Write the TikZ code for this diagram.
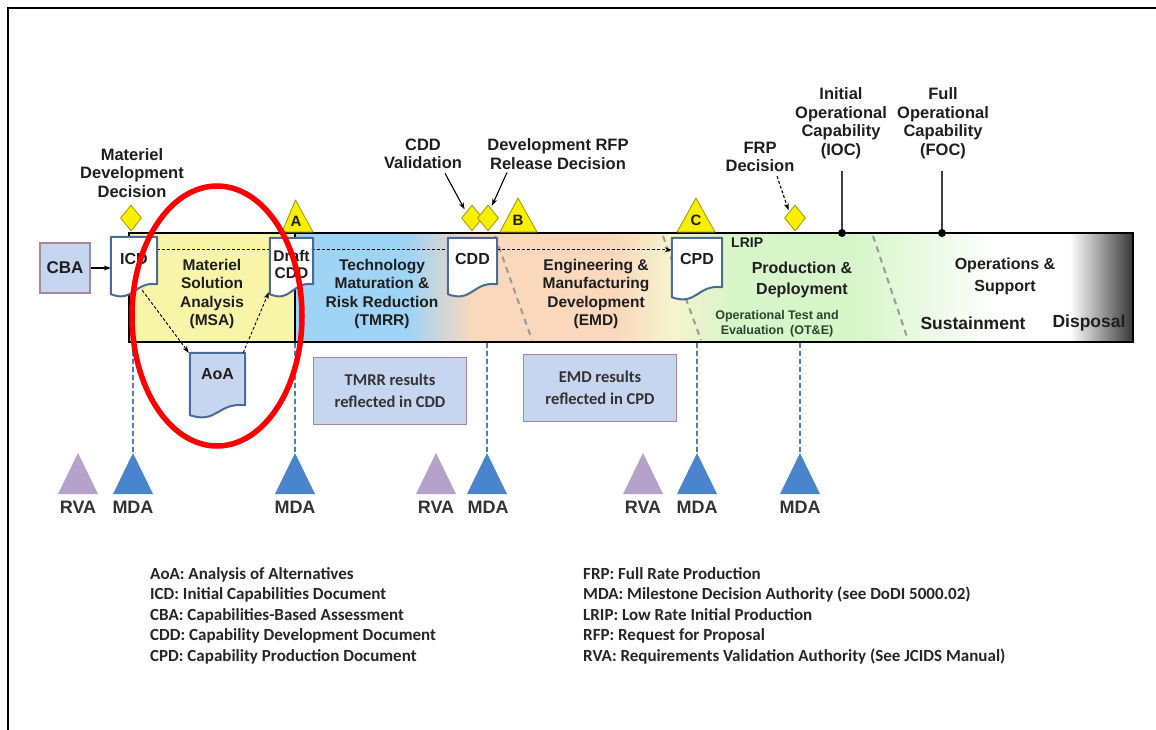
\documentclass[tikz,border=0pt]{standalone}
\usepackage{fontspec}
\setmainfont{Liberation Sans}
\newfontfamily\legendfont{Carlito}
\usetikzlibrary{arrows.meta,calc,shapes.geometric}
\pgfdeclarelayer{bandlayer}
\pgfdeclarelayer{doclayer}
\pgfsetlayers{bandlayer,doclayer,main}
\definecolor{msayellow}{RGB}{249,245,168}
\definecolor{tmrrblue}{RGB}{160,212,245}
\definecolor{emdpeach}{RGB}{249,216,188}
\definecolor{paleyel}{RGB}{246,244,206}
\definecolor{pdgreen}{RGB}{214,245,200}
\definecolor{darkend}{RGB}{55,55,55}
\definecolor{docblue}{RGB}{72,108,150}
\definecolor{boxfill}{RGB}{198,214,238}
\definecolor{boxedge}{RGB}{170,135,150}
\definecolor{mdablue}{RGB}{74,132,205}
\definecolor{rvalav}{RGB}{180,162,202}
\definecolor{diayellow}{RGB}{248,240,0}
\definecolor{diaedge}{RGB}{160,150,0}
\definecolor{dashblue}{RGB}{80,125,185}
\definecolor{txt}{RGB}{30,30,30}
\definecolor{otegreen}{RGB}{40,70,40}
\newcommand\docoutline[2]{%
  \begin{pgfonlayer}{doclayer}
    \draw[docblue, line width=2, fill=#2, line join=round]
      (#1.north west) -- (#1.north east) -- ([yshift=13pt]#1.south east)
      .. controls ([yshift=16pt]#1.south) and ([yshift=-6pt]#1.south) ..
      ([yshift=3pt]#1.south west) -- cycle;
  \end{pgfonlayer}}
\newcommand\msTri[3]{% x, fill, name
  \coordinate (#3) at (#1,453);
  \fill[#2] (#3) -- ++(-20,41) -- ++(40,0) -- cycle;}
\begin{document}
\begin{tikzpicture}[x=1pt,y=-1pt,
  lbl/.style={font=\bfseries\fontsize{16.5}{18.5}\selectfont, align=center, text=txt, inner sep=0},
  bandtxt/.style={font=\bfseries\fontsize{15.5}{18.6}\selectfont, align=center, text=txt, inner sep=0},
  doclbl/.style={font=\bfseries\fontsize{16}{18}\selectfont, text=txt, inner sep=0},
  docbox/.style={inner sep=0, draw=none},
  dia/.style={shape=diamond, fill=diayellow, draw=diaedge, line width=0.8, inner sep=0, minimum width=21, minimum height=26},
  milestone/.style={fill=diayellow, draw=diaedge, line width=0.8, line join=round},
  letter/.style={font=\bfseries\fontsize{15}{15}\selectfont, text=txt, inner sep=0},
  trilbl/.style={font=\bfseries\fontsize{18}{18}\selectfont, text=black!80, inner sep=0},
  resbox/.style={draw=boxedge, line width=1.2, fill=boxfill, align=center, inner sep=0,
     minimum width=153, minimum height=67, font=\legendfont\bfseries\fontsize{16.5}{22}\selectfont, text=black!80},
  legend/.style={font=\legendfont\bfseries\fontsize{17}{20.5}\selectfont, align=left, text=black!85, inner sep=0, anchor=north west},
  flow/.style={densely dashed, line width=0.9, -{Stealth[length=7pt,width=5pt]}},
  call/.style={line width=1.1, -{Stealth[length=7pt,width=5pt]}},
  mdaline/.style={dashblue, line width=2, dash pattern=on 5pt off 3pt},
  phase/.style={black!40, line width=2, dash pattern=on 6pt off 5pt}
]
\useasboundingbox (0,0) rectangle (1156,730);
% frame
\draw[line width=2.5] (8,730) -- (8,8) -- (1156,8);

% ---------- band ----------
\begin{pgfonlayer}{bandlayer}
  \fill[msayellow] (129,233) rectangle (295,342);
  \fill[tmrrblue] (295,233) rectangle (410,342);
  \shade[left color=tmrrblue, right color=emdpeach] (410,233) rectangle (472,342);
  \fill[emdpeach] (472,233) rectangle (615,342);
  \shade[left color=emdpeach, right color=paleyel] (615,233) rectangle (672,342);
  \shade[left color=paleyel, right color=pdgreen] (672,233) rectangle (735,342);
  \fill[pdgreen] (735,233) rectangle (850,342);
  \shade[left color=pdgreen, right color=white] (850,233) rectangle (1000,342);
  \fill[white] (1000,233) rectangle (1070,342);
  \shade[left color=white, right color=darkend] (1070,233) rectangle (1133,342);
  \node[draw=black, line width=2, minimum width=1004, minimum height=109, inner sep=0] (band) at (631,287.5) {};
  \draw[line width=1.5] (band.north -| 295,0) -- (band.south -| 295,0);
  \draw[phase] (495,236) -- (532,340);
  \draw[phase] (663,236) -- (701,340);
  \draw[phase] (873,236) -- (908,340);
\end{pgfonlayer}

% ---------- band labels ----------
\node[bandtxt] (msa) at (212,294) {Materiel\\Solution\\Analysis\\(MSA)};
\node[bandtxt] (tmrr) at (382,294) {Technology\\Maturation \&\\Risk Reduction\\(TMRR)};
\node[bandtxt] (emd) at (596,294) {Engineering \&\\Manufacturing\\Development\\(EMD)};
\node[font=\bfseries\fontsize{14}{14}\selectfont, text=txt, inner sep=0, anchor=west] (lrip) at (731,243) {LRIP};
\node[bandtxt, font=\bfseries\fontsize{16}{20.5}\selectfont] (pd) at (802,280) {Production \&\\Deployment};
\node[bandtxt, font=\bfseries\fontsize{12.5}{15}\selectfont, text=otegreen] (ote) at (777,324) {Operational Test and\\Evaluation\enspace(OT\&E)};
\node[bandtxt, font=\bfseries\fontsize{16}{22}\selectfont] (os) at (1005,276) {Operations \&\\Support};
\node[bandtxt, font=\bfseries\fontsize{17.5}{18}\selectfont] (sust) at (973,323) {Sustainment};
\node[bandtxt, font=\bfseries\fontsize{17.5}{18}\selectfont] (disp) at (1089,323) {Disposal};

% ---------- documents ----------
\node[docbox, minimum width=46, minimum height=60] (icd) at (134,267) {};
\node[docbox, minimum width=43, minimum height=59] (draft) at (291.5,267.5) {};
\node[docbox, minimum width=49, minimum height=59] (cdd) at (472.5,267.5) {};
\node[docbox, minimum width=50, minimum height=62] (cpd) at (697,269) {};
\node[docbox, minimum width=55, minimum height=65] (aoa) at (217.5,385.5) {};
\docoutline{icd}{white}
\docoutline{draft}{white}
\docoutline{cdd}{white}
\docoutline{cpd}{white}
\docoutline{aoa}{boxfill}
\node[doclbl, anchor=base] (icdt) at ([yshift=-28pt]icd.north) {ICD};
\node[doclbl, align=center, font=\bfseries\fontsize{15.5}{17}\selectfont] (draftt) at (291.5,264) {Draft\\CDD};
\node[doclbl, anchor=base] (cddt) at ([yshift=-27pt]cdd.north) {CDD};
\node[doclbl, anchor=base] (cpdt) at ([yshift=-27pt]cpd.north) {CPD};
\node[doclbl, anchor=base] (aoat) at ([yshift=-27pt]aoa.north) {AoA};

% CBA
\node[draw=boxedge, line width=1.2, fill=boxfill, minimum width=50, minimum height=50, inner sep=0,
      font=\bfseries\fontsize{17}{17}\selectfont, text=txt] (cba) at (65,268) {CBA};
\draw[call] (cba.east) -- (icd.west |- cba.east);

% flow arrows
\begin{pgfonlayer}{bandlayer}
  \draw[flow] ([yshift=-13pt]icd.north east) -- ([yshift=-12pt]cpd.north west);
\end{pgfonlayer}
\draw[flow] ([xshift=-15pt,yshift=7pt]icd.south east) -- ([xshift=-1pt]aoa.north west);
\draw[flow] ([xshift=-2pt]aoa.north east) -- ([xshift=-1pt,yshift=5pt]draft.south west);

% ---------- milestones above ----------
\node[dia] (mdd) at (131,218) {};
\node[dia] (dval) at (472,218) {};
\node[dia] (drfp) at (488,218) {};
\node[dia] (dfrp) at (795,218) {};
\draw[milestone] (282,232) -- (295.5,200) -- (313,232) -- cycle;
\node[letter] (msA) at (296,221) {A};
\draw[milestone] (500,232) -- (518,198) -- (537,232) -- cycle;
\node[letter] (msB) at (518,220) {B};
\draw[milestone] (677,232) -- (696,198) -- (715,232) -- cycle;
\node[letter] (msC) at (696,220) {C};

\node[lbl] (mddl) at (132,173) {Materiel\\Development\\Decision};
\node[lbl] (cddval) at (423,154) {CDD\\Validation};
\node[lbl] (rfp) at (558,154) {Development RFP\\Release Decision};
\node[lbl] (frp) at (760,157) {FRP\\Decision};
\node[lbl] (ioc) at (841,123) {Initial\\Operational\\Capability\\(IOC)};
\node[lbl] (foc) at (943,123) {Full\\Operational\\Capability\\(FOC)};

\draw[call] ([xshift=22pt,yshift=-4pt]cddval.south) -- ([xshift=-2pt,yshift=2pt]dval.north west);
\draw[call] ([xshift=-51pt,yshift=-3pt]rfp.south) -- ([xshift=4pt,yshift=-1pt]drfp.north);
\draw[flow, line width=1.1] ([xshift=17pt,yshift=-4pt]frp.south) -- ([xshift=-1pt,yshift=1pt]dfrp.north west);

\coordinate (iocpt) at (842,233);
\coordinate (focpt) at (942,233);
\draw[black!75, line width=1.3] ([yshift=-12pt]ioc.south -| iocpt) -- (iocpt);
\draw[black!75, line width=1.3] ([yshift=-12pt]foc.south -| focpt) -- (focpt);
\fill (iocpt) circle (4);
\fill (focpt) circle (4);

% ---------- result boxes ----------
\node[resbox] (tmrrres) at (390,391) {TMRR results\\reflected in CDD};
\node[resbox] (emdres) at (600,388) {EMD results\\reflected in CPD};

% ---------- decision authorities ----------
\msTri{78}{rvalav}{rva1}
\msTri{133}{mdablue}{mda1}
\msTri{295}{mdablue}{mda2}
\msTri{436}{rvalav}{rva2}
\msTri{487}{mdablue}{mda3}
\msTri{643}{rvalav}{rva3}
\msTri{697}{mdablue}{mda4}
\msTri{800}{mdablue}{mda5}
\foreach \m in {mda1,mda2,mda3,mda4,mda5} {
  \draw[mdaline] (\m |- band.south) -- (\m);
}
\node[trilbl] (rva1l) at (78,507) {RVA};
\node[trilbl] (mda1l) at (133,507) {MDA};
\node[trilbl] (mda2l) at (295,507) {MDA};
\node[trilbl] (rva2l) at (436,507) {RVA};
\node[trilbl] (mda3l) at (488,507) {MDA};
\node[trilbl] (rva3l) at (643,507) {RVA};
\node[trilbl] (mda4l) at (697,507) {MDA};
\node[trilbl] (mda5l) at (800,507) {MDA};

% ---------- red highlight ----------
\draw[red, line width=5.5] (217,316) ellipse [x radius=85, y radius=130];

% ---------- legend ----------
\node[legend] (legl) at (150,567) {AoA: Analysis of Alternatives\\ICD: Initial Capabilities Document\\CBA: Capabilities-Based Assessment\\CDD: Capability Development Document\\CPD: Capability Production Document};
\node[legend] (legr) at (583,567) {FRP: Full Rate Production\\MDA: Milestone Decision Authority (see DoDI 5000.02)\\LRIP: Low Rate Initial Production\\RFP: Request for Proposal\\RVA: Requirements Validation Authority (See JCIDS Manual)};
\end{tikzpicture}
\end{document}
